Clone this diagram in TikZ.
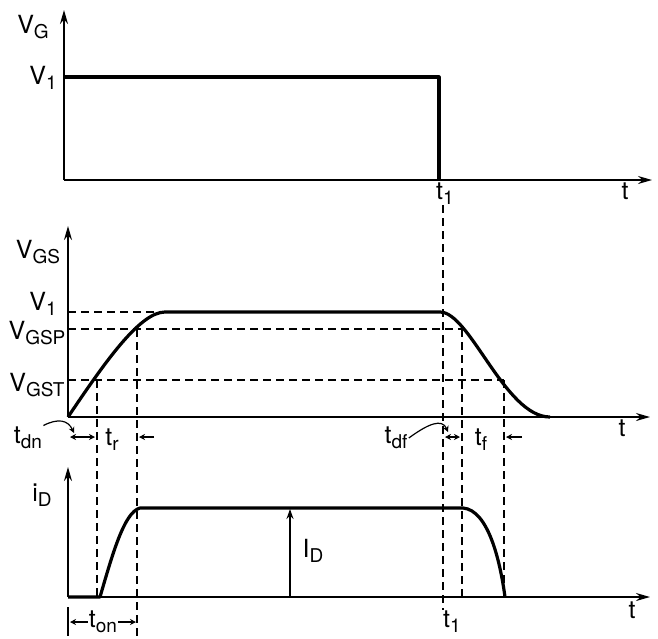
\documentclass[tikz,border=0pt]{standalone}
\usepackage{fontspec}
\setmainfont{TeX Gyre Heros}
\usetikzlibrary{arrows.meta,positioning}
\newcommand{\lo}[1]{\raisebox{-0.4ex}{\fontsize{9.5}{10}\selectfont #1}}

\begin{document}
\begin{tikzpicture}[x=0.5pt, y=-0.5pt,
    axis/.style={-{Stealth[length=7pt,width=4pt]}, line width=0.9pt},
    sig/.style={line width=1.6pt, line join=round},
    guide/.style={dash pattern=on 4pt off 2.5pt, line width=0.6pt},
    dim/.style={{Stealth[length=3pt,width=3pt]}-{Stealth[length=3pt,width=3pt]}, line width=0.6pt},
    tip/.style={-{Stealth[length=3pt,width=3pt]}, line width=0.6pt},
    lbl/.style={font=\fontsize{12.5}{14}\selectfont, inner sep=0.5pt}
]
    \useasboundingbox (0,0) rectangle (658,638);

    % Gate voltage
    \coordinate (og) at (64,180);
    \coordinate (yg) at (64,10);
    \coordinate (xg) at (652,180);
    \draw[axis] (og) -- (yg);
    \draw[axis] (og) -- (xg);
    \draw[sig] (64,77) -- (439,77) -- (439,180);
    \node[lbl] (vg) at (33,27) {V\lo{G}};
    \node[lbl] (vg1) at (43,78) {V\lo{1}};
    \node[lbl] (tg1) at (445,194) {t\lo{1}};
    \node[lbl] (tg) at (625,191) {t};

    % Gate-source voltage
    \coordinate (os) at (68,417);
    \coordinate (ys) at (68,226);
    \coordinate (xs) at (650,417);
    \draw[axis] (os) -- (ys);
    \draw[axis] (os) -- (xs);
    \draw[sig] (os) .. controls (105,362) and (140,312) .. (165,312)
        -- (440,312) .. controls (470,312) and (505,417) .. (550,417);
    \node[lbl] (vgs) at (38,252) {V\lo{GS}};
    \node[lbl] (vs1) at (43,304) {V\lo{1}};
    \node[lbl] (vgsp) at (37,333) {V\lo{GSP}};
    \node[lbl] (vgst) at (37,385) {V\lo{GST}};
    \node[lbl] (ts) at (622,428) {t};
    \draw[guide] (os |- 0,312) -- (160,312);
    \draw[guide] (os |- 0,329) -- (462,329);
    \draw[guide] (os |- 0,380) -- (504,380);

    % Drain current
    \coordinate (od) at (68,597);
    \coordinate (yd) at (68,467);
    \coordinate (xd) at (650,597);
    \draw[axis] (od) -- (yd);
    \draw[axis] (od) -- (xd);
    \draw[sig] (od) -- (100,597) .. controls (112,556) and (124,512) .. (140,508)
        -- (463,508) .. controls (488,510) and (500,560) .. (505,597);
    \draw[axis, -{Stealth[length=5pt,width=3.5pt]}] (290,597) -- (290,509);
    \node[lbl] (id) at (42,495) {i\lo{D}};
    \node[lbl] (idv) at (313,551) {I\lo{D}};
    \node[lbl] (td1) at (452,622) {t\lo{1}};
    \node[lbl] (td) at (632,610) {t};

    % Switching instants
    \draw[guide] (97,380) -- (97,597);
    \draw[guide] (137,329) -- (137,636);
    \draw[guide] (443,205) -- (443,610);
    \draw[guide] (462,329) -- (462,597);
    \draw[guide] (504,380) -- (504,597);

    % Delay and transition times
    \node[lbl] (tdn) at (28,438) {t\lo{dn}};
    \node[lbl] (tr) at (112,440) {t\lo{r}};
    \draw[dim] (70,437) -- (95,437);
    \draw[tip] (tdn.north east) .. controls (58,418) and (68,420) .. (74,433);
    \draw[tip] (154,437) -- (139,437);
    \node[lbl] (tdf) at (396,438) {t\lo{df}};
    \node[lbl] (tf) at (481,440) {t\lo{f}};
    \draw[dim] (445,437) -- (460,437);
    \draw[tip] (tdf.east) .. controls (428,424) and (442,418) .. (448,432);
    \draw[tip] (522,437) -- (506,437);

    % Turn-on time
    \draw[line width=0.6pt] (68,607) -- (68,636);
    \node[lbl] (ton) at (103,622) {t\lo{on}};
    \draw[tip] (ton.west) -- (70,622);
    \draw[tip] (ton.east) -- (136,622);
\end{tikzpicture}
\end{document}
